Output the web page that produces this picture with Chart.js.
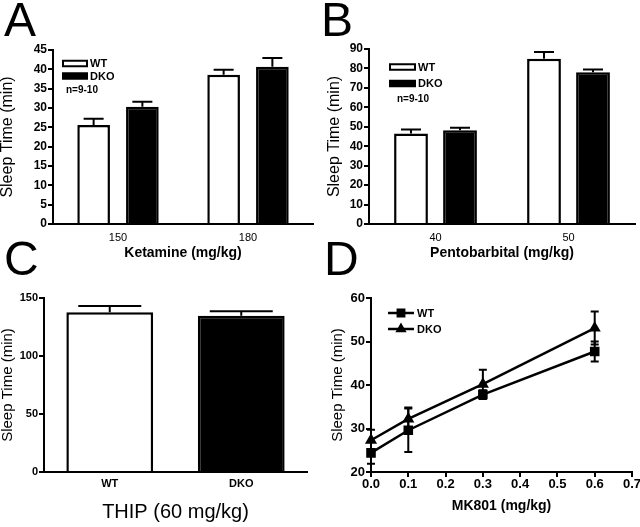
<!DOCTYPE html>
<html>
<head>
<meta charset="utf-8">
<script src="https://cdn.jsdelivr.net/npm/chart.js@4.4.1/dist/chart.umd.min.js"></script>
<style>
html,body{margin:0;padding:0;background:#fff;width:640px;height:527px;overflow:hidden}
canvas{position:absolute;left:0;top:0}
.letter{position:absolute;font-family:'Liberation Sans',Arial,sans-serif;font-size:48px;line-height:48px;color:#000;white-space:nowrap}
</style>
</head>
<body>
<canvas id="cA" width="640" height="527"></canvas>
<canvas id="cB" width="640" height="527"></canvas>
<canvas id="cC" width="640" height="527"></canvas>
<canvas id="cD" width="640" height="527"></canvas>
<div class="letter" style="left:4px;top:-4px">A</div>
<div class="letter" style="left:321px;top:-4px">B</div>
<div class="letter" style="left:4px;top:235px">C</div>
<div class="letter" style="left:324px;top:235px">D</div>
<script>
// ---------- DATA ----------
// Panel A: Ketamine
const ketCats = ['150', '180'];
const ketWT = [25.6, 38.6];
const ketWTErr = [1.6, 1.3];
const ketDKO = [30.3, 40.7];
const ketDKOErr = [1.3, 2.2];

// Panel B: Pentobarbital
const pentoCats = ['40', '50'];
const pentoWT = [46.5, 85.0];
const pentoWTErr = [2.1, 3.4];
const pentoDKO = [48.2, 78.1];
const pentoDKOErr = [1.3, 1.4];

// Panel C: THIP
const thipCats = ['WT', 'DKO'];
const thipVals = [137.7, 134.7];
const thipErr = [5.3, 3.8];

// Panel D: MK801
const mkDose = [0, 0.1, 0.3, 0.6];
const mkWT = [24.4, 29.6, 37.8, 47.7];
const mkWTErr = [2.5, 5.0, 1.0, 2.3];
const mkDKO = [27.3, 32.2, 40.2, 53.1];
const mkDKOErr = [2.4, 2.6, 3.3, 3.8];

const seriesNames = ['WT', 'DKO'];
const noteText = 'n=9-10';

// ---------- STYLE ----------
const FAM = "'Liberation Sans', Arial, sans-serif";
Chart.defaults.font.family = FAM;
Chart.defaults.color = '#000';

const errorBars = {
  id: 'errorBars',
  afterDatasetsDraw(chart, args, opts) {
    const ctx = chart.ctx;
    chart.data.datasets.forEach((ds, di) => {
      if (!ds.errors) return;
      const meta = chart.getDatasetMeta(di);
      const ys = chart.scales[meta.yAxisID];
      meta.data.forEach((el, i) => {
        const d = ds.data[i];
        const v = (typeof d === 'object') ? d.y : d;
        const e = ds.errors[i];
        const x = el.x;
        const top = ys.getPixelForValue(v + e);
        const bot = opts.both ? ys.getPixelForValue(v - e) : el.y;
        const hw = opts.capWidth / 2;
        ctx.save();
        ctx.strokeStyle = '#000';
        ctx.lineWidth = opts.lineWidth || 2;
        ctx.beginPath();
        ctx.moveTo(x, bot); ctx.lineTo(x, top);
        ctx.moveTo(x - hw, top); ctx.lineTo(x + hw, top);
        if (opts.both) { ctx.moveTo(x - hw, bot); ctx.lineTo(x + hw, bot); }
        ctx.stroke();
        ctx.restore();
      });
    });
  }
};

const customLegend = {
  id: 'customLegend',
  afterDraw(chart, args, opts) {
    if (!opts.show) return;
    const ctx = chart.ctx;
    const ca = chart.chartArea;
    ctx.save();
    ctx.font = 'bold ' + opts.fontSize + 'px ' + FAM;
    ctx.textBaseline = 'middle';
    ctx.textAlign = 'left';
    ctx.fillStyle = '#000';
    chart.data.datasets.forEach((ds, i) => {
      const x = ca.left + opts.dx;
      const y = ca.top + opts.dy + i * opts.rowGap;
      if (opts.kind === 'box') {
        ctx.fillStyle = '#000';
        ctx.fillRect(x, y - opts.boxH / 2, opts.boxW, opts.boxH);
        ctx.fillStyle = ds.backgroundColor;
        const b = 2;
        if (ds.backgroundColor !== '#000') ctx.fillRect(x + b, y - opts.boxH / 2 + b, opts.boxW - 2 * b, opts.boxH - 2 * b);
        ctx.fillStyle = '#000';
        ctx.fillText(ds.label, x + opts.boxW + 2, y + 0.5);
      } else {
        ctx.strokeStyle = '#000';
        ctx.lineWidth = 2.5;
        ctx.beginPath();
        ctx.moveTo(x, y); ctx.lineTo(x + opts.boxW, y);
        ctx.stroke();
        ctx.fillStyle = '#000';
        Chart.helpers.drawPoint(ctx, {pointStyle: ds.pointStyle, radius: ds.pointRadius - 0.5, rotation: 0, borderWidth: 1}, x + opts.boxW / 2, y);
        ctx.fillStyle = '#000';
        ctx.fillText(ds.label, x + opts.boxW + 3, y + 0.5);
      }
    });
    if (opts.note) {
      ctx.font = 'bold ' + opts.noteSize + 'px ' + FAM;
      ctx.fillText(opts.note, ca.left + opts.noteDx, ca.top + opts.noteDy);
    }
    ctx.restore();
  }
};

function fixSize(w, h) {
  return function (s) {
    if (w !== null) s.width = w;
    if (h !== null) s.height = h;
    s.paddingLeft = 0; s.paddingRight = 0; s.paddingTop = 0; s.paddingBottom = 0;
  };
}

function yAxis(min, max, step, yw, titleSize, tickSize) {
  return {
    type: 'linear', min: min, max: max,
    ticks: {stepSize: step, padding: 1, color: '#000', font: {size: tickSize, weight: 'bold'}},
    grid: {display: true, drawOnChartArea: false, drawTicks: true, tickLength: 5, color: '#000', lineWidth: 2},
    border: {display: true, color: '#000', width: 2},
    title: {display: true, text: 'Sleep Time (min)', color: '#000', padding: 0, font: {size: titleSize, lineHeight: 1}},
    afterFit: fixSize(yw, null)
  };
}

function catAxis(title, titleFont, xh, tickFont, pad) {
  return {
    type: 'category', offset: true,
    ticks: {padding: pad, color: '#000', font: tickFont, maxRotation: 0},
    grid: {display: true, drawOnChartArea: false, drawTicks: false, color: '#000', lineWidth: 2},
    border: {display: true, color: '#000', width: 2},
    title: {display: true, text: title, color: '#000', padding: 0, font: titleFont},
    afterFit: fixSize(null, xh)
  };
}

function barPanel(id, cats, wt, wtErr, dko, dkoErr, ymax, ystep, area, yw, xh, xtitle, catPct, barPct, leg) {
  new Chart(document.getElementById(id), {
    type: 'bar',
    data: {
      labels: cats,
      datasets: [
        {label: seriesNames[0], data: wt, errors: wtErr, backgroundColor: '#fff', borderColor: '#000', borderWidth: 2.5, categoryPercentage: catPct, barPercentage: barPct},
        {label: seriesNames[1], data: dko, errors: dkoErr, backgroundColor: '#000', borderColor: '#000', borderWidth: 2.5, categoryPercentage: catPct, barPercentage: barPct}
      ]
    },
    options: {
      responsive: false, animation: false, events: [],
      layout: {padding: {left: area.L - yw, top: area.T, right: 640 - area.R, bottom: 527 - area.B - xh}},
      plugins: {legend: {display: false}, tooltip: {enabled: false}, errorBars: {capWidth: 20, lineWidth: 2}, customLegend: leg},
      scales: {
        x: catAxis(xtitle, {size: 14, weight: 'bold', lineHeight: 1}, xh, {size: 11}, 7),
        y: yAxis(0, ymax, ystep, yw, 16, 12)
      }
    },
    plugins: [errorBars, customLegend]
  });
}

barPanel('cA', ketCats, ketWT, ketWTErr, ketDKO, ketDKOErr, 45, 5,
  {L: 53, T: 50, R: 313, B: 224}, 53, 36, 'Ketamine (mg/kg)', 0.75, 0.67,
  {show: true, kind: 'box', dx: 9, dy: 13.5, rowGap: 12.5, boxW: 26, boxH: 7.5, fontSize: 11, note: noteText, noteDx: 13, noteDy: 40, noteSize: 10});

barPanel('cB', pentoCats, pentoWT, pentoWTErr, pentoDKO, pentoDKOErr, 90, 10,
  {L: 369, T: 49, R: 635, B: 224}, 42, 36, 'Pentobarbital (mg/kg)', 0.737, 0.69,
  {show: true, kind: 'box', dx: 20, dy: 18, rowGap: 16.5, boxW: 27, boxH: 7.5, fontSize: 11, note: noteText, noteDx: 28, noteDy: 50, noteSize: 10});

// Panel C
(function () {
  const area = {L: 44, T: 298, R: 307, B: 472};
  const yw = 44, xh = 50;
  new Chart(document.getElementById('cC'), {
    type: 'bar',
    data: {
      labels: thipCats,
      datasets: [{label: 'THIP', data: thipVals, errors: thipErr, backgroundColor: ['#fff', '#000'], borderColor: '#000', borderWidth: 2.5, categoryPercentage: 1, barPercentage: 0.66}]
    },
    options: {
      responsive: false, animation: false, events: [],
      layout: {padding: {left: area.L - yw, top: area.T, right: 640 - area.R, bottom: 527 - area.B - xh}},
      plugins: {legend: {display: false}, tooltip: {enabled: false}, errorBars: {capWidth: 63, lineWidth: 2}, customLegend: {show: false}},
      scales: {
        x: catAxis('THIP (60 mg/kg)', {size: 20, lineHeight: 1}, xh, {size: 11, weight: 'bold'}, 5),
        y: yAxis(0, 150, 50, yw, 15, 11)
      }
    },
    plugins: [errorBars, customLegend]
  });
})();

// Panel D
(function () {
  const area = {L: 371, T: 298, R: 632, B: 472};
  const yw = 41, xh = 41;
  const toPts = (ys) => ys.map((y, i) => ({x: mkDose[i], y: y}));
  new Chart(document.getElementById('cD'), {
    type: 'line',
    data: {
      datasets: [
        {label: seriesNames[0], data: toPts(mkWT), errors: mkWTErr, borderColor: '#000', backgroundColor: '#000', borderWidth: 2.5, pointStyle: 'rect', pointRadius: 5, pointBackgroundColor: '#000', pointBorderColor: '#000', tension: 0, clip: false},
        {label: seriesNames[1], data: toPts(mkDKO), errors: mkDKOErr, borderColor: '#000', backgroundColor: '#000', borderWidth: 2.5, pointStyle: 'triangle', pointRadius: 4.5, pointBackgroundColor: '#000', pointBorderColor: '#000', tension: 0, clip: false}
      ]
    },
    options: {
      responsive: false, animation: false, events: [],
      layout: {padding: {left: area.L - yw, top: area.T, right: 640 - area.R, bottom: 527 - area.B - xh}},
      plugins: {legend: {display: false}, tooltip: {enabled: false}, errorBars: {capWidth: 8, lineWidth: 2, both: true},
        customLegend: {show: true, kind: 'line', dx: 17, dy: 15, rowGap: 16, boxW: 26, fontSize: 11}},
      scales: {
        x: {
          type: 'linear', min: 0, max: 0.7,
          ticks: {stepSize: 0.1, padding: 0, color: '#000', font: {size: 13, weight: 'bold'}, callback: (v) => Number(v).toFixed(1), maxRotation: 0},
          grid: {display: true, drawOnChartArea: false, drawTicks: true, tickLength: 5, color: '#000', lineWidth: 2},
          border: {display: true, color: '#000', width: 2},
          title: {display: true, text: 'MK801 (mg/kg)', color: '#000', padding: 0, font: {size: 14, weight: 'bold', lineHeight: 1}},
          afterFit: fixSize(null, xh)
        },
        y: yAxis(20, 60, 10, yw, 15, 13)
      }
    },
    plugins: [errorBars, customLegend]
  });
})();
</script>
</body>
</html>
